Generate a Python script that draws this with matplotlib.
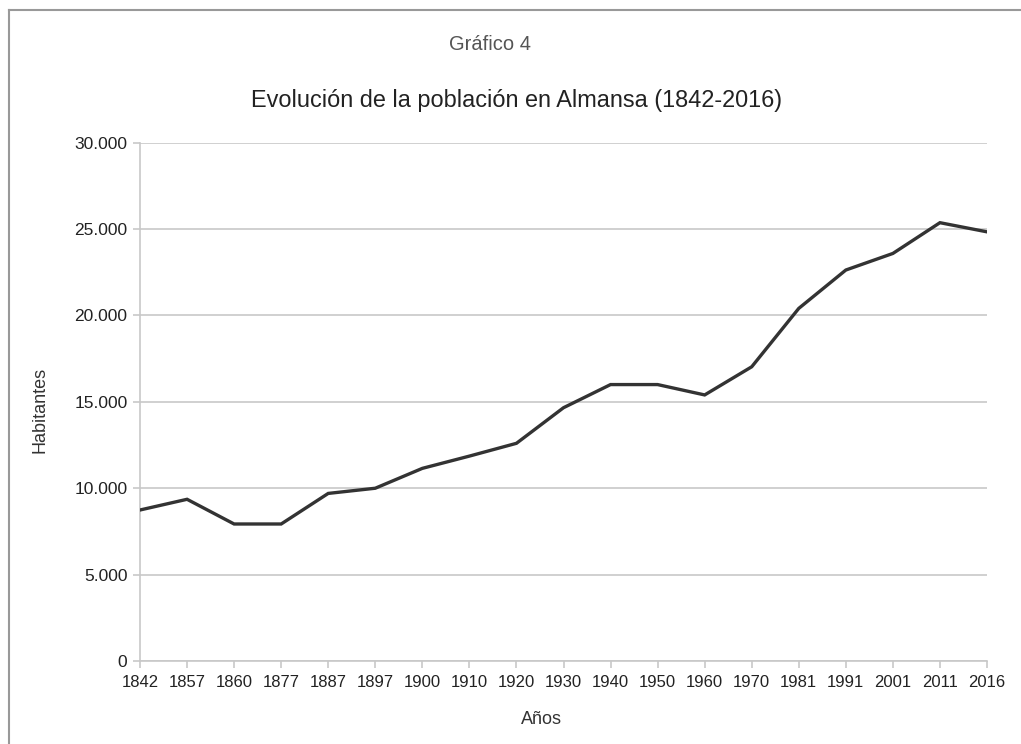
import matplotlib.pyplot as plt
from matplotlib.lines import Line2D
from matplotlib.ticker import FuncFormatter

plt.rcParams['font.family'] = ['Liberation Sans', 'DejaVu Sans']

# datos
years = ['1842', '1857', '1860', '1877', '1887', '1897', '1900', '1910', '1920', '1930',
         '1940', '1950', '1960', '1970', '1981', '1991', '2001', '2011', '2016']
habitantes = [8740, 9360, 7930, 7930, 9700, 10000, 11150, 11860, 12600, 14660,
              16000, 16000, 15400, 17030, 20410, 22630, 23590, 25370, 24840]

W, H = 1021, 744
fig = plt.figure(figsize=(W / 100, H / 100), dpi=100)
ax = fig.add_axes([140/W, 1 - 661/H, (987 - 140)/W, (661 - 142.7)/H])

x = list(range(len(years)))
ax.plot(x, habitantes, color='#333333', lw=2.4, solid_joinstyle='miter', zorder=3)

ax.set_xlim(0, len(years) - 1)
ax.set_ylim(0, 30000)
ax.set_xticks(x)
ax.set_xticklabels(years)
ax.set_yticks(range(0, 30001, 5000))
ax.yaxis.set_major_formatter(FuncFormatter(lambda v, p: f'{int(v):,}'.replace(',', '.')))

ax.grid(axis='y', color='#c8c8c8', lw=1.2)
ax.set_axisbelow(True)
for s in ['top', 'right']:
    ax.spines[s].set_visible(False)
for s in ['left', 'bottom']:
    ax.spines[s].set_color('#c8c8c8')
    ax.spines[s].set_linewidth(1.2)
ax.tick_params(axis='both', colors='#c8c8c8', length=5, width=1.2, labelcolor='#222222')
ax.tick_params(axis='x', pad=5, labelsize=12)
ax.tick_params(axis='y', pad=4, labelsize=12.5)

ax.set_xlabel('Años', fontsize=13, color='#333333', va='center')
ax.xaxis.set_label_coords((541 - 140) / (987 - 140), -(720 - 661) / (661 - 142.7))
ax.set_ylabel('Habitantes', fontsize=13, color='#333333', va='center')
ax.yaxis.set_label_coords(-(140 - 40) / (987 - 140), (661 - 410) / (661 - 142.7))

fig.text(490/W, 1 - 44/H, 'Gráfico 4', fontsize=14.5, color='#555555',
         ha='center', va='center')
fig.text(517/W, 1 - 100/H, 'Evolución de la población en Almansa (1842-2016)',
         fontsize=16.9, color='#222222', ha='center', va='center')

# marco de la imagen (solo arriba e izquierda)
fig.add_artist(Line2D([9/W, 9/W], [0, 1 - 10/H], color='#999999', lw=1.5,
                      transform=fig.transFigure))
fig.add_artist(Line2D([9/W, 1], [1 - 10/H, 1 - 10/H], color='#999999', lw=1.5,
                      transform=fig.transFigure))

fig.savefig('out.png', dpi=100)
